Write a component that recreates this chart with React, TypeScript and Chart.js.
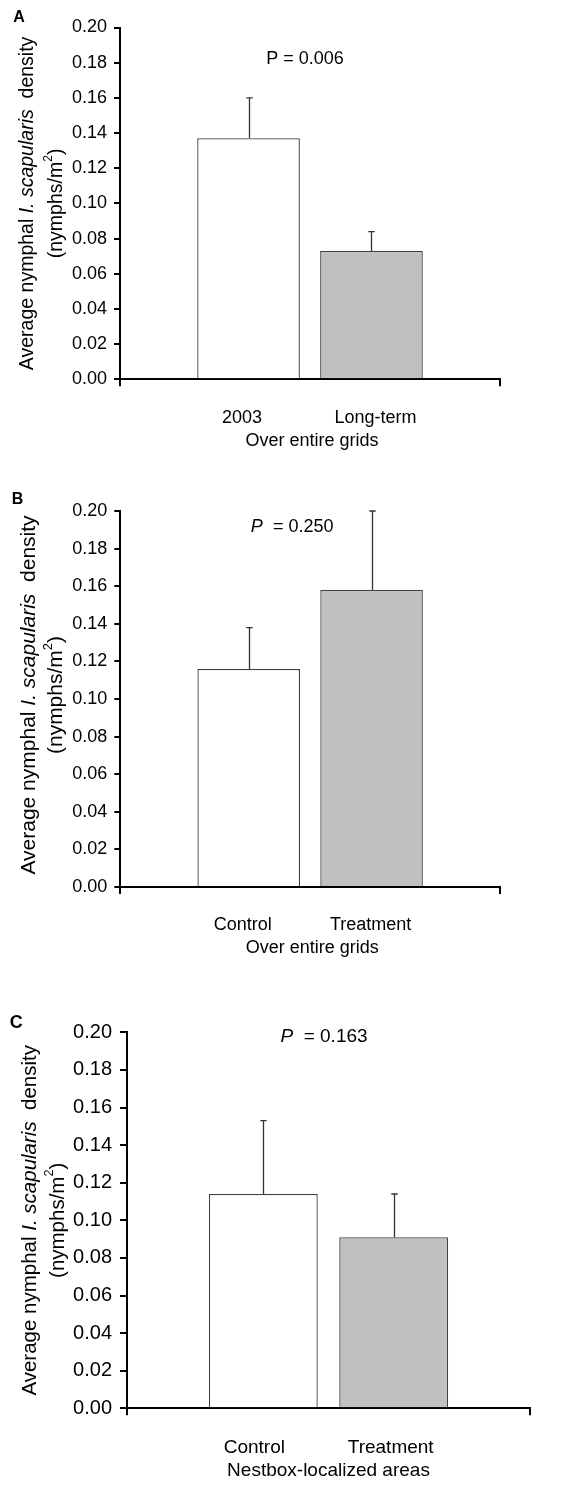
import React, { useEffect, useRef } from "react";
import { Chart, registerables } from "chart.js";

Chart.register(...registerables);

const FONT = '"Liberation Sans", Arial, Helvetica, sans-serif';

// ---- shared axis data ----
const yTickValues = [0, 0.02, 0.04, 0.06, 0.08, 0.1, 0.12, 0.14, 0.16, 0.18, 0.2];
const yMin = 0;
const yMax = 0.2;
const seriesColors = ["#ffffff", "#c0c0c0"];

// ---- panel A ----
const groupsA = ["2003", "Long-term"];
const meansA = [0.137, 0.073];
const errorsA = [0.023, 0.011];
const xTitleA = "Over entire grids";

// ---- panel B ----
const groupsB = ["Control", "Treatment"];
const meansB = [0.116, 0.158];
const errorsB = [0.022, 0.042];
const xTitleB = "Over entire grids";

// ---- panel C ----
const groupsC = ["Control", "Treatment"];
const meansC = [0.114, 0.091];
const errorsC = [0.039, 0.023];
const xTitleC = "Nestbox-localized areas";

type Seg = { text: string; italic?: boolean; bold?: boolean; sup?: boolean };

const yTitleLine1: Seg[] = [
  { text: "Average nymphal " },
  { text: "I. scapularis", italic: true },
  { text: "  density" },
];
const yTitleLine2: Seg[] = [{ text: "(nymphs/m" }, { text: "2", sup: true }, { text: ")" }];

const pTextA: Seg[] = [{ text: "P = 0.006" }];
const pTextB: Seg[] = [{ text: "P", italic: true }, { text: "  = 0.250" }];
const pTextC: Seg[] = [{ text: "P", italic: true }, { text: "  = 0.163" }];

type Panel = {
  letter: string;
  groups: string[];
  means: number[];
  errors: number[];
  xTitle: string;
  pText: Seg[];
  top: number;
  height: number;
  area: { left: number; right: number; top: number; bottom: number };
  fonts: { tick: number; title: number; label: number; p: number; letter: number };
  tickPad: number;
  tickLen: number;
  titleX: [number, number];
  titleDy: number;
  labelDx: [number, number];
  labelDy: number;
  xTitleDy: number;
  xTitleDx: number;
  pDx: number;
  pY: number;
  letterPos: [number, number];
};

const W = 574;

const panels: Panel[] = [
  {
    letter: "A",
    groups: groupsA,
    means: meansA,
    errors: errorsA,
    xTitle: xTitleA,
    pText: pTextA,
    top: 0,
    height: 470,
    area: { left: 120, right: 500, top: 27.5, bottom: 379.3 },
    fonts: { tick: 18, title: 19.5, label: 18, p: 18, letter: 16 },
    tickPad: 7,
    tickLen: 6,
    titleX: [27.5, 56.5],
    titleDy: 0,
    labelDx: [-6.5, 4],
    labelDy: 39,
    xTitleDy: 62,
    xTitleDx: 2,
    pDx: -5,
    pY: 59,
    letterPos: [19, 17.5],
  },
  {
    letter: "B",
    groups: groupsB,
    means: meansB,
    errors: errorsB,
    xTitle: xTitleB,
    pText: pTextB,
    top: 470,
    height: 490,
    area: { left: 120.3, right: 500, top: 41, bottom: 417 },
    fonts: { tick: 18, title: 21, label: 18, p: 18, letter: 16 },
    tickPad: 7,
    tickLen: 6,
    titleX: [29, 56.5],
    titleDy: -4,
    labelDx: [-6, -1],
    labelDy: 38,
    xTitleDy: 61,
    xTitleDx: 2,
    pDx: -18,
    pY: 57,
    letterPos: [17.5, 30],
  },
  {
    letter: "C",
    groups: groupsC,
    means: meansC,
    errors: errorsC,
    xTitle: xTitleC,
    pText: pTextC,
    top: 960,
    height: 535,
    area: { left: 127, right: 530, top: 72.3, bottom: 448.3 },
    fonts: { tick: 20, title: 20.5, label: 19, p: 19, letter: 18 },
    tickPad: 8,
    tickLen: 7,
    titleX: [30, 58],
    titleDy: 0,
    labelDx: [-9, -3],
    labelDy: 39,
    xTitleDy: 62,
    xTitleDx: 0,
    pDx: -4.5,
    pY: 77,
    letterPos: [16.3, 63.5],
  },
];

function drawSegments(
  ctx: CanvasRenderingContext2D,
  segs: Seg[],
  x: number,
  y: number,
  size: number,
  align: "center" | "left"
) {
  const fontOf = (s: Seg) =>
    `${s.italic ? "italic " : ""}${s.bold ? "bold " : ""}${s.sup ? size * 0.62 : size}px ${FONT}`;
  const widths = segs.map((s) => {
    ctx.font = fontOf(s);
    return ctx.measureText(s.text).width;
  });
  const total = widths.reduce((a, b) => a + b, 0);
  let cx = align === "center" ? x - total / 2 : x;
  ctx.textAlign = "left";
  ctx.textBaseline = "middle";
  segs.forEach((s, i) => {
    ctx.font = fontOf(s);
    ctx.fillText(s.text, cx, s.sup ? y - size * 0.4 : y);
    cx += widths[i];
  });
}

function makePlugin(p: Panel) {
  return {
    id: "decor" + p.letter,
    afterDatasetsDraw(chart: any) {
      const ctx: CanvasRenderingContext2D = chart.ctx;
      const ys = chart.scales.y;
      ctx.save();
      ctx.strokeStyle = "#333333";
      ctx.lineWidth = 1.3;
      p.means.forEach((m, i) => {
        const el = chart.getDatasetMeta(i).data[0];
        const x = Math.round(el.x) + 0.5;
        const yb = el.y;
        const yt = ys.getPixelForValue(m + p.errors[i]);
        ctx.beginPath();
        ctx.moveTo(x, yb);
        ctx.lineTo(x, yt);
        ctx.moveTo(x - 3.2, yt);
        ctx.lineTo(x + 3.2, yt);
        ctx.stroke();
      });
      ctx.restore();
    },
    afterDraw(chart: any) {
      const ctx: CanvasRenderingContext2D = chart.ctx;
      const ca = chart.chartArea;
      ctx.save();
      ctx.fillStyle = "#000000";
      // y-axis title (two lines, rotated)
      const cy = (ca.top + ca.bottom) / 2 + p.titleDy;
      [yTitleLine1, yTitleLine2].forEach((line, li) => {
        ctx.save();
        ctx.translate(p.titleX[li], cy);
        ctx.rotate(-Math.PI / 2);
        drawSegments(ctx, line, 0, 0, p.fonts.title, "center");
        ctx.restore();
      });
      // category labels under each bar
      p.groups.forEach((g, i) => {
        const el = chart.getDatasetMeta(i).data[0];
        drawSegments(ctx, [{ text: g }], el.x + p.labelDx[i], ca.bottom + p.labelDy, p.fonts.label, "center");
      });
      // x-axis title
      const cx = (ca.left + ca.right) / 2;
      drawSegments(ctx, [{ text: p.xTitle }], cx + p.xTitleDx, ca.bottom + p.xTitleDy, p.fonts.label, "center");
      // P value
      drawSegments(ctx, p.pText, cx + p.pDx, p.pY, p.fonts.p, "center");
      // panel letter
      drawSegments(ctx, [{ text: p.letter, bold: true }], p.letterPos[0], p.letterPos[1], p.fonts.letter, "center");
      ctx.restore();
    },
  };
}

function PanelChart({ p }: { p: Panel }) {
  const ref = useRef<HTMLCanvasElement | null>(null);
  useEffect(() => {
    if (!ref.current) return;
    const chart = new Chart(ref.current, {
      type: "bar",
      data: {
        labels: [""],
        datasets: p.groups.map((g, i) => ({
          label: g,
          data: [p.means[i]],
          backgroundColor: seriesColors[i],
          borderColor: "#404040",
          borderWidth: 1.3,
          borderSkipped: "bottom",
          categoryPercentage: 0.647,
          barPercentage: 0.835,
        })),
      },
      options: {
        animation: false,
        responsive: false,
        maintainAspectRatio: false,
        devicePixelRatio: 1,
        events: [],
        layout: {
          autoPadding: false,
          padding: { left: 0, top: p.area.top, right: W - p.area.right, bottom: 0 },
        },
        plugins: { legend: { display: false }, tooltip: { enabled: false }, title: { display: false } },
        scales: {
          x: {
            type: "category",
            offset: true,
            ticks: { display: false },
            grid: {
              offset: true,
              drawOnChartArea: false,
              drawTicks: true,
              tickLength: 7,
              color: "#000000",
              lineWidth: 2,
            },
            border: { display: true, color: "#000000", width: 2 },
            afterFit: (s: any) => {
              s.height = p.height - p.area.bottom;
            },
          },
          y: {
            type: "linear",
            min: yMin,
            max: yMax,
            afterBuildTicks: (s: any) => {
              s.ticks = yTickValues.map((v) => ({ value: v }));
            },
            ticks: {
              color: "#000000",
              padding: p.tickPad,
              font: { family: FONT, size: p.fonts.tick },
              callback: (v: any) => Number(v).toFixed(2),
            },
            grid: {
              drawOnChartArea: false,
              drawTicks: true,
              tickLength: p.tickLen,
              color: "#000000",
              lineWidth: 2,
            },
            border: { display: true, color: "#000000", width: 2 },
            afterFit: (s: any) => {
              s.width = p.area.left;
            },
          },
        },
      },
      plugins: [makePlugin(p)],
    } as any);
    return () => chart.destroy();
  }, [p]);
  return (
    <canvas
      ref={ref}
      width={W}
      height={p.height}
      style={{ position: "absolute", left: 0, top: p.top, width: W, height: p.height, display: "block" }}
    />
  );
}

export default function App() {
  return (
    <div style={{ position: "absolute", left: 0, top: 0, width: W, height: 1495, background: "#ffffff", overflow: "hidden" }}>
      {panels.map((p) => (
        <PanelChart key={p.letter} p={p} />
      ))}
    </div>
  );
}
